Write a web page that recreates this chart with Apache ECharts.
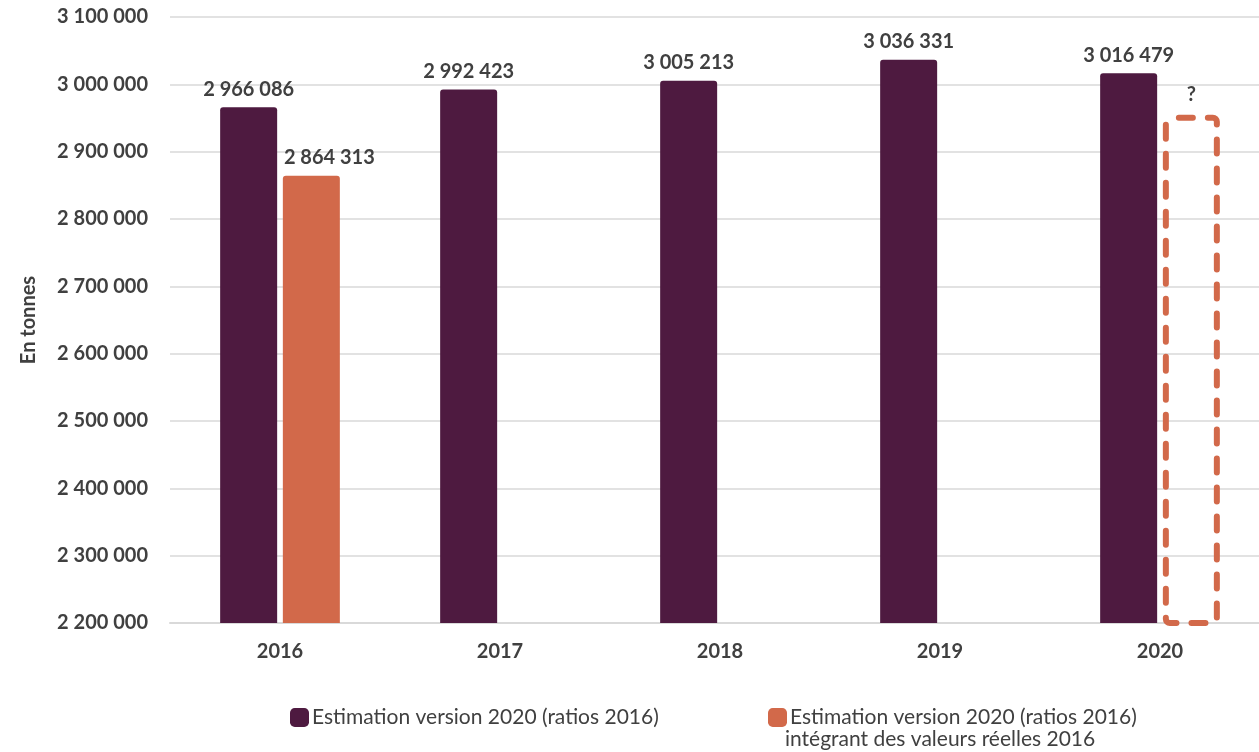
<!DOCTYPE html>
<html>
<head>
<meta charset="utf-8">
<script src="https://cdn.jsdelivr.net/npm/echarts@6/dist/echarts.min.js"></script>
<style>
  html, body { margin: 0; padding: 0; background: #fff; }
  #chart { width: 1259px; height: 752px; }
</style>
</head>
<body>
<div id="chart"></div>
<script>
const years = ['2016', '2017', '2018', '2019', '2020']
const estimation = [2966086, 2992423, 3005213, 3036331, 3016479]
const reelles = [2864313, null, null, null, 2955000]
const seriesNames = [
  'Estimation version 2020 (ratios 2016)',
  'Estimation version 2020 (ratios 2016) intégrant des valeurs réelles 2016'
]
const legendLines = [
  'Estimation version 2020 (ratios 2016)',
  'intégrant des valeurs réelles 2016'
]

const purple = '#4E1A40'
const orange = '#D2694A'
const textColor = '#404040'
const font = 'Lato'

function fmt(v) {
  return String(v).replace(/\B(?=(\d{3})+(?!\d))/g, ' ')
}

const chart = echarts.init(document.getElementById('chart'))

const legendBase = {
  top: 702,
  itemWidth: 19, itemHeight: 19, itemGap: 0,
  icon: 'roundRect',
  textStyle: { color: textColor, fontSize: 21, fontFamily: font, padding: [0, 0, 0, -2] }
}

const option = {
  animation: false,
  textStyle: { fontFamily: font },
  grid: { left: 170, width: 1100, top: 17, height: 606, outerBoundsMode: 'none' },
  legend: [
    Object.assign({}, legendBase, { data: [seriesNames[0]], left: 285 }),
    Object.assign({}, legendBase, {
      data: [seriesNames[1]], left: 763,
      formatter: () => legendLines[0]
    })
  ],
  graphic: [{
    type: 'text',
    left: 785, top: 729,
    style: { text: legendLines[1], fill: textColor, fontSize: 21, fontFamily: font }
  }],
  xAxis: {
    type: 'category',
    data: years,
    axisTick: { show: false },
    axisLine: { lineStyle: { color: '#D9D9D9', width: 2 } },
    axisLabel: { color: textColor, fontSize: 20, fontWeight: 'bold', margin: 19, fontFamily: font }
  },
  yAxis: {
    type: 'value',
    min: 2200000,
    max: 3100000,
    interval: 100000,
    name: 'En tonnes',
    nameLocation: 'middle',
    nameGap: 131,
    nameTextStyle: { color: textColor, fontSize: 20, fontWeight: 'bold', fontFamily: font },
    axisLine: { show: false },
    axisTick: { show: false },
    splitLine: { lineStyle: { color: '#D9D9D9', width: 1.5 } },
    axisLabel: {
      color: textColor, fontSize: 20, fontWeight: 'bold', margin: 22, fontFamily: font,
      formatter: fmt
    }
  },
  series: [
    {
      name: seriesNames[0],
      type: 'bar',
      data: estimation,
      barWidth: 57,
      barGap: '10%',
      itemStyle: { color: purple, borderRadius: [3, 3, 0, 0] },
      label: {
        show: true, position: 'top', distance: 8,
        color: textColor, fontSize: 20, fontWeight: 'bold', fontFamily: font,
        formatter: p => fmt(p.value)
      }
    },
    {
      name: seriesNames[1],
      type: 'bar',
      barWidth: 57,
      data: reelles.map((v, i) => {
        if (v == null) return null
        if (i === reelles.length - 1) {
          return {
            value: v,
            itemStyle: {
              color: 'rgba(0,0,0,0)',
              borderColor: orange,
              borderWidth: 6,
              borderType: [14, 15],
              borderDashOffset: 20,
              borderCap: 'round',
              borderRadius: 4
            },
            label: { formatter: '?', distance: 10, offset: [0, 0] }
          }
        }
        return v
      }),
      itemStyle: { color: orange, borderRadius: [3, 3, 0, 0] },
      label: {
        show: true, position: 'top', distance: 8, offset: [18, 0],
        color: textColor, fontSize: 20, fontWeight: 'bold', fontFamily: font,
        formatter: p => fmt(p.value)
      }
    }
  ]
}

chart.setOption(option)
</script>
</body>
</html>
